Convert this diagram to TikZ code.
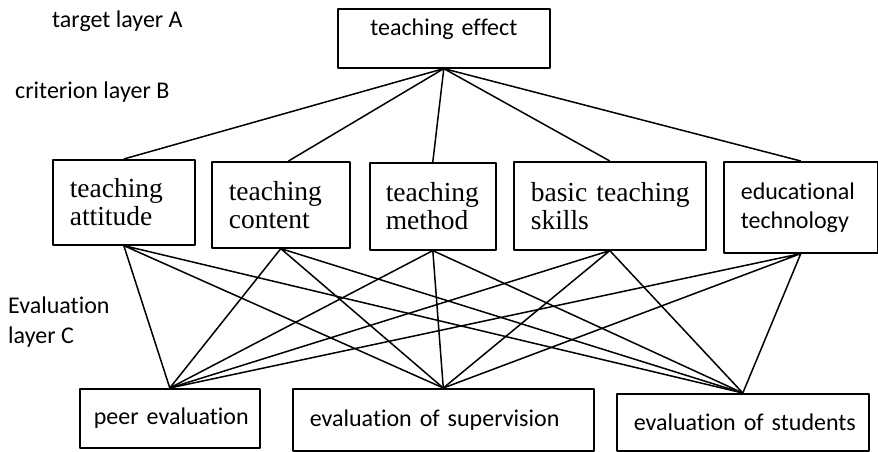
\documentclass[tikz,border=0pt]{standalone}
\usepackage{fontspec}
\setmainfont{Carlito}[Ligatures={NoCommon,NoRare,NoContextual}, Contextuals=NoAlternate]
\newfontfamily\timesfont{Liberation Serif}
\begin{document}
\begin{tikzpicture}[x=1pt, y=-1pt, line join=round]
  \definecolor{ink}{HTML}{000000}
  \definecolor{paper}{HTML}{FFFFFF}
  \path[use as bounding box] (0,0) rectangle (878,451);
  \fill[paper] (0,0) rectangle (878,451);
  \tikzset{
    box/.style={draw=ink, line width=1.6pt, anchor=north west, inner xsep=17pt, inner ysep=0pt, align=left, text=ink},
    sans/.style={font=\fontsize{24}{29}\selectfont},
    serif/.style={font=\timesfont\fontsize{27.5}{28}\selectfont},
    layer/.style={inner sep=0pt, text=ink, align=left, font=\fontsize{24}{30}\selectfont},
    link/.style={draw=ink, line width=1.5pt}
  }
  % Layer names down the left margin.
  \node[layer, anchor=base west] (layerA) at (52,27) {target layer A};
  \node[layer, anchor=base west] (layerB) at (15,98) {criterion layer B};
  \node[layer, anchor=west] (layerC) at (8,322) {Evaluation\\layer C};
  % Target layer.
  \node[box, sans, align=center, text width=178pt, minimum height=59pt, text height=16pt, text depth=21pt] (effect) at (337,8) {\mbox{teaching effect}};
  % Criterion layer (each line kept whole in an \mbox).
  \node[box, serif, text width=108pt, minimum height=85pt] (attitude) at (52,159) {teaching\\attitude};
  \node[box, serif, text width=104pt, minimum height=86pt] (content) at (211,161) {teaching\\content};
  \node[box, serif, inner xsep=16pt, text width=94pt, minimum height=87pt] (method) at (369,162) {\mbox{teaching}\\method};
  \node[box, serif, text width=158pt, minimum height=88pt] (skills) at (513,161) {\mbox{basic teaching}\\skills};
  \node[box, sans, text width=120pt, minimum height=91pt] (technology) at (723,161) {educational\\technology};
  % Evaluation layer.
  \node[box, sans, inner xsep=14pt, text width=152pt, minimum height=59pt] (peer) at (79,388) {\mbox{peer evaluation}};
  \node[box, sans, text width=267pt, minimum height=62pt] (supervision) at (292,388) {\mbox{evaluation of supervision}};
  \node[box, sans, text width=218pt, minimum height=57pt] (students) at (616,393) {\mbox{evaluation of students}};
  % A to B.
  \draw[link] (effect.south) -- (attitude.north);
  \draw[link] (effect.south) -- (content.80);
  \draw[link] (effect.south) -- (method.north);
  \draw[link] (effect.south) -- (skills.north);
  \draw[link] (effect.south) -- (technology.north);
  % B to C, every criterion to every evaluation.
  \draw[link] (attitude.south) -- (peer.north) (attitude.south) -- (supervision.north) (attitude.south) -- (students.north);
  \draw[link] (content.south) -- (peer.north) (content.south) -- (supervision.north) (content.south) -- (students.north);
  \draw[link] (method.south) -- (peer.north) (method.south) -- (supervision.north) (method.south) -- (students.north);
  \draw[link] (skills.south) -- (peer.north) (skills.south) -- (supervision.north) (skills.south) -- (students.north);
  \draw[link] (technology.south) -- (peer.north) (technology.south) -- (supervision.north) (technology.south) -- (students.north);
\end{tikzpicture}
\end{document}
